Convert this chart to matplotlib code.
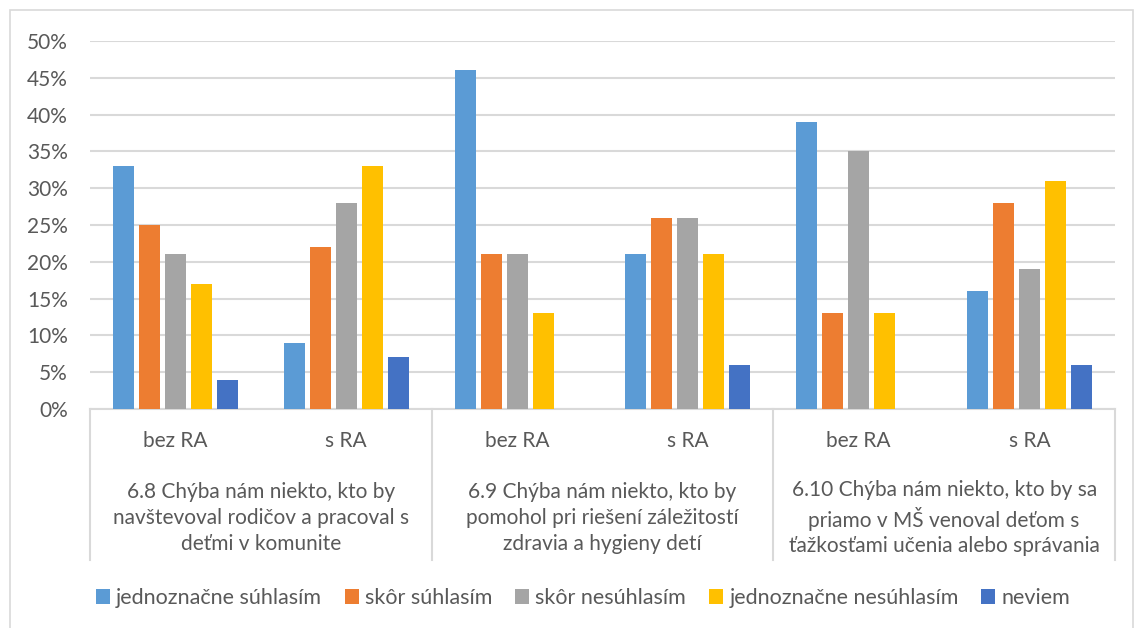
import matplotlib
matplotlib.use("Agg")
import matplotlib.pyplot as plt
import matplotlib.transforms as mtransforms
from matplotlib.patches import Rectangle
import numpy as np

plt.rcParams['font.family'] = ['Lato', 'DejaVu Sans']

# data
sub_labels = ['bez RA', 's RA', 'bez RA', 's RA', 'bez RA', 's RA']
group_labels = [
    '6.8 Chýba nám niekto, kto by\nnavštevoval rodičov a pracoval s\ndeťmi v komunite',
    '6.9 Chýba nám niekto, kto by\npomohol pri riešení záležitostí\nzdravia a hygieny detí',
    '6.10 Chýba nám niekto, kto by sa\npriamo v MŠ venoval deťom s\nťažkosťami učenia alebo správania',
]
series_names = ['jednoznačne súhlasím', 'skôr súhlasím', 'skôr nesúhlasím',
                'jednoznačne nesúhlasím', 'neviem']
jednoznacne_suhlasim = [0.33, 0.09, 0.46, 0.21, 0.39, 0.16]
skor_suhlasim = [0.25, 0.22, 0.21, 0.26, 0.13, 0.28]
skor_nesuhlasim = [0.21, 0.28, 0.21, 0.26, 0.35, 0.19]
jednoznacne_nesuhlasim = [0.17, 0.33, 0.13, 0.21, 0.13, 0.31]
neviem = [0.04, 0.07, 0.0, 0.06, 0.0, 0.06]
series = [jednoznacne_suhlasim, skor_suhlasim, skor_nesuhlasim,
          jednoznacne_nesuhlasim, neviem]
colors = ['#5B9BD5', '#ED7D31', '#A5A5A5', '#FFC000', '#4472C4']

text_color = '#595959'
grid_color = '#D9D9D9'
fs = 15

W, H = 1135, 628
fig = plt.figure(figsize=(W / 100, H / 100), dpi=100)
ax_l, ax_r, ax_t, ax_b = 90, 1115, 41, 409
ax = fig.add_axes([ax_l / W, 1 - ax_b / H, (ax_r - ax_l) / W, (ax_b - ax_t) / H])

# chart border
fig.patches.append(Rectangle((10 / W, -0.1), (1133 - 10) / W, 1.1 - 10 / H,
                             transform=fig.transFigure, fill=False,
                             edgecolor=grid_color, linewidth=1.2))

x = np.arange(len(sub_labels))
step = 0.152
width = 0.123
for i, (vals, name, c) in enumerate(zip(series, series_names, colors)):
    ax.bar(x + (i - 2) * step, vals, width, color=c, label=name, zorder=3)

ax.set_xlim(-0.5, len(sub_labels) - 0.5)
ax.set_ylim(0, 0.5)
ax.set_yticks(np.arange(0, 0.51, 0.05))
ax.set_yticklabels([f'{int(round(v * 100))}%' for v in np.arange(0, 0.51, 0.05)])
ax.tick_params(axis='y', length=0, labelsize=fs, labelcolor=text_color, pad=16)
ax.set_xticks([])
ax.grid(axis='y', color=grid_color, linewidth=1.5, zorder=0)
for s in ['top', 'right', 'left']:
    ax.spines[s].set_visible(False)
ax.spines['bottom'].set_color(grid_color)
ax.spines['bottom'].set_linewidth(1.5)

# multi-level category axis
trans = mtransforms.blended_transform_factory(ax.transData, ax.transAxes)
px = 1 / (ax_b - ax_t)
for b in [-0.5, 1.5, 3.5, 5.5]:
    ax.plot([b, b], [0, -(560 - ax_b) * px], transform=trans, color=grid_color,
            linewidth=1.5, clip_on=False)
for xi, lab in zip(x, sub_labels):
    ax.text(xi, -(441 - ax_b) * px, lab, transform=trans, ha='center', va='center',
            fontsize=fs, color=text_color)
for gi, lab in enumerate(group_labels):
    ax.text(2 * gi + 0.5, -(518 - ax_b) * px, lab, transform=trans, ha='center',
            va='center', fontsize=fs, color=text_color, linespacing=1.35)

leg = fig.legend(loc='center', bbox_to_anchor=(583 / W, 1 - 598 / H), ncol=5,
                 frameon=False, fontsize=15.5, handlelength=0.65, handleheight=0.65,
                 handletextpad=0.3, columnspacing=1.05)
for t in leg.get_texts():
    t.set_color(text_color)

fig.savefig('out.png', dpi=100)
